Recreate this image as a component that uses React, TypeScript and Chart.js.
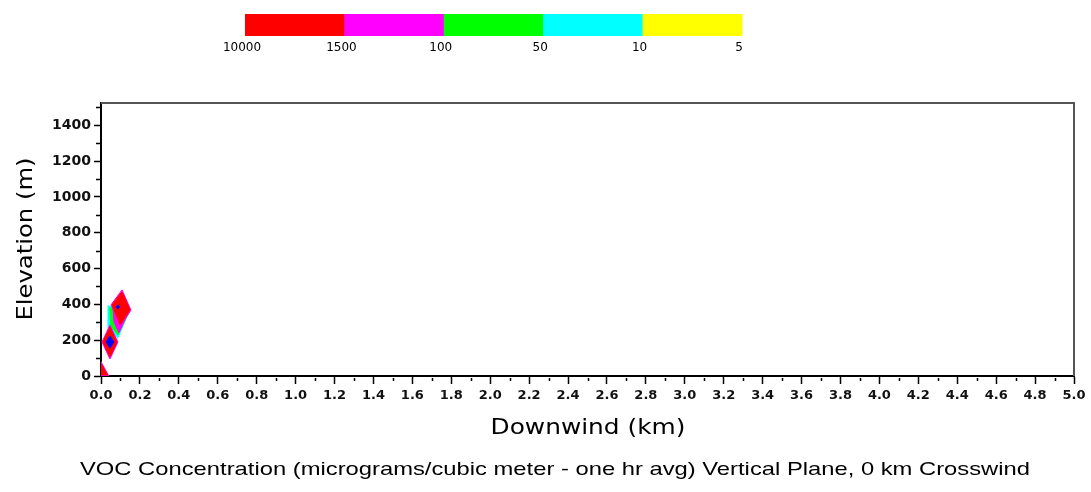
import React, { useEffect, useRef } from "react";
import { Chart, registerables } from "chart.js";

Chart.register(...registerables);

// ---- Data ----
const legendLabels = ["10000", "1500", "100", "50", "10", "5"];
const legendColors = ["#ff0000", "#ff00ff", "#00ff00", "#00ffff", "#ffff00"];

const xMin = 0;
const xMax = 5.0;
const yMin = 0;
const yMax = 1525;

// contour polygons (downwind km, elevation m)
const cyanKm = [0.036, 0.149, 0.087, 0.041];
const cyanM = [392, 370, 213, 269];
const greenKm = [0.046, 0.144, 0.087, 0.051];
const greenM = [381, 358, 230, 280];
const magentaKm = [0.062, 0.139, 0.092, 0.067];
const magentaM = [381, 353, 241, 302];
const upperEdgeKm = [0.108, 0.052, 0.098, 0.154];
const upperEdgeM = [481, 398, 275, 368];
const upperRedKm = [0.108, 0.057, 0.098, 0.149];
const upperRedM = [470, 398, 286, 370];
const lowerEdgeKm = [0.046, 0.005, 0.046, 0.087];
const lowerEdgeM = [285, 190, 95, 190];
const lowerRedKm = [0.046, 0.01, 0.046, 0.082];
const lowerRedM = [274, 190, 106, 190];
const lowerBlueKm = [0.046, 0.026, 0.046, 0.066];
const lowerBlueM = [224, 190, 156, 190];
const upperBlueKm = [0.087, 0.079, 0.087, 0.095];
const upperBlueM = [398, 386, 374, 386];
const originEdgeKm = [0, 0, 0.04];
const originEdgeM = [0, 80, 0];
const originRedKm = [0, 0, 0.034];
const originRedM = [6, 70, 6];

// listed bottom layer first
const contours = [
  { km: cyanKm, m: cyanM, color: "#00ffff" },
  { km: greenKm, m: greenM, color: "#00ff00" },
  { km: magentaKm, m: magentaM, color: "#ff00ff" },
  { km: upperEdgeKm, m: upperEdgeM, color: "#ff00ff" },
  { km: upperRedKm, m: upperRedM, color: "#ff0000" },
  { km: lowerEdgeKm, m: lowerEdgeM, color: "#ff00ff" },
  { km: lowerRedKm, m: lowerRedM, color: "#ff0000" },
  { km: lowerBlueKm, m: lowerBlueM, color: "#0000ff" },
  { km: upperBlueKm, m: upperBlueM, color: "#0000ff" },
  { km: originEdgeKm, m: originEdgeM, color: "#ff00ff" },
  { km: originRedKm, m: originRedM, color: "#ff0000" },
];

const xTitle = "Downwind (km)";
const yTitle = "Elevation (m)";
const caption =
  "VOC Concentration (micrograms/cubic meter - one hr avg) Vertical Plane, 0 km Crosswind";

function drawFit(
  ctx: CanvasRenderingContext2D,
  text: string,
  cx: number,
  cy: number,
  font: string,
  width: number,
  rotate = 0
) {
  ctx.save();
  ctx.font = font;
  ctx.fillStyle = "#000";
  ctx.textAlign = "center";
  ctx.textBaseline = "middle";
  const w = ctx.measureText(text).width;
  ctx.translate(cx, cy);
  if (rotate) ctx.rotate(rotate);
  ctx.scale(width / w, 1);
  ctx.fillText(text, 0, 0);
  ctx.restore();
}

const overlay = {
  id: "overlay",
  afterDraw(chart: any) {
    const { ctx, chartArea: ca, scales } = chart;
    const x = scales.x;
    const y = scales.y;
    ctx.save();
    // top/right frame
    ctx.strokeStyle = "#555";
    ctx.lineWidth = 2;
    ctx.beginPath();
    ctx.moveTo(ca.left, ca.top);
    ctx.lineTo(ca.right, ca.top);
    ctx.lineTo(ca.right, ca.bottom);
    ctx.stroke();
    // minor ticks
    ctx.strokeStyle = "#000";
    ctx.lineWidth = 1.5;
    ctx.beginPath();
    for (let i = 1; i < 50; i += 2) {
      const px = Math.round(x.getPixelForValue(i / 10)) + 0.5;
      ctx.moveTo(px, ca.bottom + 2);
      ctx.lineTo(px, ca.bottom + 5);
    }
    for (let v = 100; v <= 1500; v += 200) {
      const py = Math.round(y.getPixelForValue(v)) + 0.5;
      ctx.moveTo(ca.left - 5, py);
      ctx.lineTo(ca.left - 1, py);
    }
    ctx.stroke();
    ctx.restore();

    // colour bar legend
    const barLeft = 245;
    const barW = 99.4;
    ctx.save();
    legendColors.forEach((c, i) => {
      ctx.fillStyle = c;
      ctx.fillRect(barLeft + i * barW, 14, barW + 0.5, 22);
    });
    ctx.font = "12px 'DejaVu Sans'";
    ctx.fillStyle = "#000";
    ctx.textAlign = "center";
    ctx.textBaseline = "middle";
    legendLabels.forEach((l, i) => {
      ctx.fillText(l, barLeft + i * barW - 3, 48);
    });
    ctx.restore();

    // titles
    drawFit(ctx, xTitle, 588, 429, "21px 'DejaVu Sans'", 195);
    drawFit(ctx, yTitle, 27, 239, "21px 'DejaVu Sans'", 163, -Math.PI / 2);
    drawFit(ctx, caption, 555, 470, "19px 'Liberation Sans'", 950);
  },
};

export default function App() {
  const ref = useRef<HTMLCanvasElement | null>(null);
  useEffect(() => {
    if (!ref.current) return;
    const datasets = contours.map((c, idx) => ({
      data: [...c.km, c.km[0]].map((v, i) => ({ x: v, y: [...c.m, c.m[0]][i] })),
      showLine: true,
      fill: "shape",
      backgroundColor: c.color,
      borderColor: c.color,
      borderWidth: 1,
      pointRadius: 0,
      tension: 0,
      order: contours.length - idx,
    }));
    const chart = new Chart(ref.current, {
      type: "scatter",
      data: { datasets: datasets as any },
      plugins: [overlay as any],
      options: {
        animation: false,
        responsive: false,
        maintainAspectRatio: false,
        layout: { padding: { left: 0, top: 103, right: 17, bottom: 0 } },
        plugins: { legend: { display: false }, tooltip: { enabled: false } },
        scales: {
          x: {
            type: "linear",
            min: xMin,
            max: xMax,
            afterFit: (s: any) => {
              s.height = 116;
            },
            border: { color: "#000", width: 2 },
            grid: {
              drawOnChartArea: false,
              drawTicks: true,
              tickLength: 8,
              tickWidth: 1.5,
              tickColor: (c: any) =>
                c.tick && Math.round(c.tick.value * 10) % 2 === 0 ? "#000" : "rgba(0,0,0,0)",
            },
            ticks: {
              stepSize: 0.1,
              autoSkip: false,
              maxRotation: 0,
              includeBounds: false,
              padding: 4,
              color: "#111",
              font: { family: "'DejaVu Sans'", size: 13, weight: "bold" },
              callback: (v: any) => {
                const n = Math.round(Number(v) * 10);
                return n % 2 === 0 ? (n / 10).toFixed(1) : "";
              },
            },
          },
          y: {
            type: "linear",
            min: yMin,
            max: yMax,
            afterFit: (s: any) => {
              s.width = 101;
            },
            border: { color: "#000", width: 2 },
            grid: {
              drawOnChartArea: false,
              drawTicks: true,
              tickLength: 7,
              tickWidth: 1.5,
              tickColor: (c: any) =>
                c.tick && Math.round(c.tick.value) % 200 === 0 ? "#000" : "rgba(0,0,0,0)",
            },
            ticks: {
              stepSize: 100,
              autoSkip: false,
              includeBounds: false,
              padding: 3,
              color: "#111",
              font: { family: "'DejaVu Sans'", size: 14, weight: "bold" },
              callback: (v: any) => {
                const n = Math.round(Number(v));
                return n % 200 === 0 ? String(n) : "";
              },
            },
          },
        },
      },
    });
    return () => chart.destroy();
  }, []);
  return (
    <div style={{ position: "fixed", left: 0, top: 0, width: 1091, height: 492, background: "#fff" }}>
      <canvas ref={ref} width={1091} height={492} style={{ width: 1091, height: 492 }} />
    </div>
  );
}
